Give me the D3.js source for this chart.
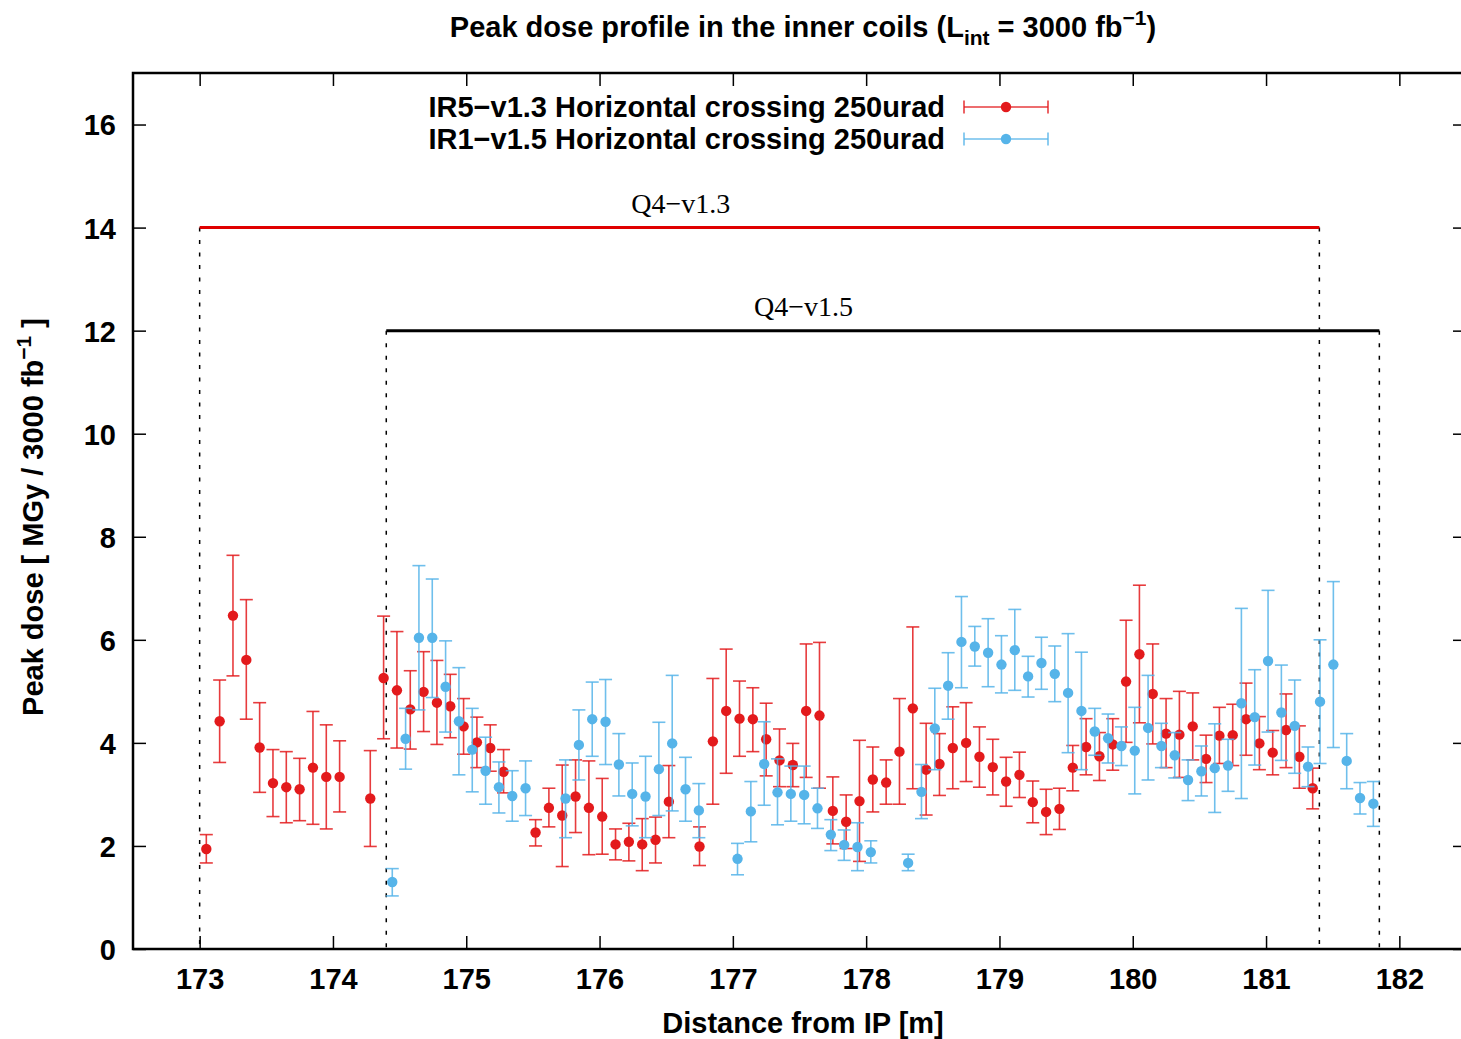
<!DOCTYPE html>
<html><head><meta charset="utf-8">
<script src="https://cdn.jsdelivr.net/npm/d3@7"></script>
<style>
body{margin:0;background:#fff;}
svg{display:block;}
.sans{font-family:"Liberation Sans Narrow","Liberation Sans",Arial,sans-serif;font-weight:bold;}
</style></head>
<body><svg id="c" width="1461" height="1039"></svg>
<script>
// Series IR5-v1.3 (red): x [m], value, lower, upper
const redX = [173.05,173.15,173.25,173.35,173.45,173.55,173.65,173.75,173.85,173.95,174.05,
174.28,174.38,174.48,174.58,174.68,174.78,174.88,174.98,175.08,175.18,175.28,
175.52,175.62,175.72,175.82,175.92,176.02,176.12,176.22,176.32,176.42,176.52,
176.75,176.85,176.95,177.05,177.15,177.25,177.35,177.45,177.55,177.65,177.75,177.85,177.95,
178.05,178.15,178.25,178.35,178.45,178.55,178.65,178.75,178.85,178.95,179.05,179.15,179.25,
179.35,179.45,179.55,179.65,179.75,179.85,179.95,180.05,180.15,180.25,180.35,180.45,180.55,
180.65,180.75,180.85,180.95,181.05,181.15,181.25,181.35];
const redY = [1.94,4.42,6.47,5.61,3.91,3.22,3.14,3.10,3.52,3.34,3.34,
2.92,5.26,5.02,4.65,4.99,4.78,4.71,4.32,4.01,3.90,3.44,
2.26,2.74,2.59,2.96,2.74,2.57,2.03,2.08,2.03,2.12,2.86,
1.99,4.03,4.62,4.47,4.46,4.07,3.66,3.57,4.62,4.53,2.68,2.47,2.87,
3.29,3.23,3.83,4.67,3.48,3.59,3.90,4.00,3.73,3.53,3.25,3.38,2.85,
2.66,2.72,3.52,3.92,3.74,3.97,5.19,5.72,4.95,4.18,4.16,4.32,3.69,
4.14,4.15,4.46,3.99,3.81,4.25,3.73,3.12];
const redLo = [1.67,3.62,5.30,4.46,3.04,2.57,2.45,2.49,2.42,2.33,2.66,
1.99,4.08,3.90,3.88,4.22,3.97,4.10,3.78,3.52,3.45,3.03,
2.00,2.37,1.60,2.26,1.83,1.84,1.73,1.71,1.52,1.67,2.16,
1.62,2.81,3.41,3.74,3.83,3.36,3.15,3.15,3.33,3.12,2.04,1.95,1.70,
2.66,2.81,2.81,3.11,2.60,2.98,3.11,3.25,3.14,2.99,2.77,2.94,2.45,
2.22,2.32,3.07,3.38,3.27,3.47,4.01,4.39,3.98,3.52,3.33,3.67,3.23,
3.60,3.56,3.76,3.48,3.38,3.52,3.12,2.72];
const redHi = [2.22,5.22,7.64,6.78,4.78,3.87,3.83,3.70,4.61,4.35,4.04,
3.85,6.46,6.16,5.40,5.77,5.60,5.33,4.86,4.50,4.35,3.87,
2.51,3.12,3.57,3.67,3.65,3.31,2.33,2.44,2.53,2.56,3.56,
2.37,5.25,5.82,5.20,5.07,4.77,4.27,3.99,5.92,5.95,3.34,2.99,4.05,
3.92,3.67,4.86,6.25,4.38,4.18,4.70,4.78,4.31,4.07,3.72,3.82,3.26,
3.10,3.12,3.95,4.47,4.20,4.47,6.38,7.06,5.92,4.86,5.00,4.97,4.15,
4.69,4.75,5.16,4.51,4.24,4.95,4.33,3.51];

// Series IR1-v1.5 (blue)
const blueX = [174.445,174.545,174.645,174.745,174.845,174.945,175.045,175.145,175.245,175.345,175.445,
175.745,175.845,175.945,176.045,176.145,176.245,176.345,176.445,176.545,176.645,176.745,
177.035,177.135,177.235,177.335,177.435,177.535,177.635,177.735,177.835,177.935,178.035,
178.315,178.415,178.515,178.615,178.715,178.815,178.915,179.015,179.115,179.215,179.315,179.415,
179.515,179.615,179.715,179.815,179.915,180.015,180.115,180.215,180.315,180.415,180.515,180.615,
180.715,180.815,180.915,181.015,181.115,181.215,181.315,181.405,181.505,181.605,181.705,181.805];
const blueY = [1.30,4.08,6.04,6.04,5.09,4.42,3.87,3.46,3.14,2.97,3.12,
2.92,3.96,4.46,4.41,3.58,3.01,2.96,3.49,3.99,3.10,2.69,
1.75,2.67,3.59,3.04,3.01,2.99,2.73,2.22,2.02,1.98,1.88,
1.67,3.05,4.28,5.11,5.96,5.87,5.75,5.52,5.80,5.29,5.55,5.34,
4.97,4.62,4.22,4.09,3.94,3.85,4.29,3.94,3.76,3.28,3.45,3.51,
3.56,4.77,4.50,5.59,4.59,4.33,3.54,4.80,5.52,3.65,2.93,2.82];
const blueLo = [1.03,3.49,4.64,4.88,4.21,3.38,3.05,2.81,2.64,2.48,2.59,
2.16,3.28,3.74,3.58,2.97,2.39,2.16,2.59,2.68,2.48,2.16,
1.44,2.08,2.79,2.41,2.48,2.43,2.34,1.91,1.72,1.52,1.67,
1.52,2.53,3.48,4.46,5.07,5.49,5.09,4.97,5.02,4.89,5.04,4.80,
3.81,3.48,3.76,3.61,3.56,3.01,3.28,3.52,3.32,2.88,2.97,2.65,
3.06,2.92,3.57,4.21,3.66,3.41,3.15,3.60,3.91,3.11,2.62,2.38];
const blueHi = [1.56,4.67,7.44,7.18,5.98,5.46,4.67,4.11,3.63,3.46,3.65,
3.67,4.64,5.18,5.23,4.18,3.61,3.74,4.40,5.31,3.72,3.21,
2.05,3.25,4.41,3.69,3.55,3.55,3.12,2.51,2.31,2.45,2.10,
1.84,3.58,5.06,5.75,6.84,6.26,6.41,6.08,6.59,5.68,6.05,5.88,
6.12,5.76,4.67,4.56,4.31,4.69,5.31,4.38,4.20,3.67,3.94,4.37,
4.07,6.61,5.42,6.96,5.51,5.22,3.92,6.00,7.13,4.18,3.23,3.25];

// Magnet extents
const magnets = [
  {name:"Q4\u2212v1.3", x0:173.0, x1:181.4, level:14, color:"#e00000", labelX:176.61},
  {name:"Q4\u2212v1.5", x0:174.4, x1:181.85, level:12, color:"#000000", labelX:177.53}
];
const xTicks = [173,174,175,176,177,178,179,180,181,182];
const yTicks = [0,2,4,6,8,10,12,14,16];
const legendLabels = ["IR5\u2212v1.3 Horizontal crossing 250urad","IR1\u2212v1.5 Horizontal crossing 250urad"];
const colors = ["#e31a1c","#56b4e9"];

const svg = d3.select("#c");
const L=133, R=1466, T=73, B=949;
const x = d3.scaleLinear().domain([172.5,182.5]).range([L,R]);
const y = d3.scaleLinear().domain([0,17]).range([B,T]);

// dashed verticals and magnet lines
const g = svg.append("g");
magnets.forEach(m=>{
  [m.x0,m.x1].forEach(xv=>{
    g.append("line").attr("x1",x(xv)).attr("x2",x(xv)).attr("y1",y(m.level)).attr("y2",y(0))
     .attr("stroke","#000").attr("stroke-width",1.5).attr("stroke-dasharray","4,8.5");
  });
});
magnets.forEach(m=>{
  g.append("line").attr("x1",x(m.x0)).attr("x2",x(m.x1)).attr("y1",y(m.level)).attr("y2",y(m.level))
   .attr("stroke",m.color).attr("stroke-width",3);
  g.append("text").attr("x",x(m.labelX)).attr("y",y(m.level)-15).attr("text-anchor","middle")
   .attr("font-family","'Liberation Serif','DejaVu Serif',serif").attr("font-size",28).text(m.name);
});

function series(X,Y,Lo,Hi,col){
  const s = svg.append("g");
  const cw=6.5;
  X.forEach((xv,i)=>{
    const px=x(xv);
    s.append("line").attr("x1",px).attr("x2",px).attr("y1",y(Lo[i])).attr("y2",y(Hi[i]))
      .attr("stroke",col).attr("stroke-width",1.6).attr("stroke-opacity",0.85);
    [Lo[i],Hi[i]].forEach(v=>{
      s.append("line").attr("x1",px-cw).attr("x2",px+cw).attr("y1",y(v)).attr("y2",y(v))
       .attr("stroke",col).attr("stroke-width",1.6).attr("stroke-opacity",0.85);
    });
  });
  s.selectAll("circle").data(X).enter().append("circle")
    .attr("cx",d=>x(d)).attr("cy",(d,i)=>y(Y[i])).attr("r",5.2).attr("fill",col);
}
series(redX,redY,redLo,redHi,colors[0]);
series(blueX,blueY,blueLo,blueHi,colors[1]);

// frame
svg.append("rect").attr("x",L).attr("y",T).attr("width",R-L).attr("height",B-T)
  .attr("fill","none").attr("stroke","#000").attr("stroke-width",2.5);

// axes with inward ticks
const tl=13;
const ax = svg.append("g").attr("transform",`translate(0,${B})`)
  .call(d3.axisBottom(x).tickValues(xTicks).tickSize(-tl).tickPadding(19).tickFormat(d3.format("d")));
const axT = svg.append("g").attr("transform",`translate(0,${T})`)
  .call(d3.axisTop(x).tickValues(xTicks).tickSize(-tl).tickFormat(""));
const ay = svg.append("g").attr("transform",`translate(${L},0)`)
  .call(d3.axisLeft(y).tickValues(yTicks).tickSize(-tl).tickPadding(17).tickFormat(d3.format("d")));
const ayR = svg.append("g").attr("transform",`translate(${R},0)`)
  .call(d3.axisRight(y).tickValues(yTicks).tickSize(-tl).tickFormat(""));
[ax,axT,ay,ayR].forEach(a=>{
  a.select(".domain").remove();
  a.selectAll(".tick line").attr("stroke","#000").attr("stroke-width",1.5);
  a.selectAll("text").attr("class","sans").attr("font-size",29).attr("fill","#000");
});
ay.selectAll(".tick text").attr("dy","0.36em");

// title
const title = svg.append("text").attr("class","sans").attr("x",803).attr("y",37)
  .attr("text-anchor","middle").attr("font-size",29);
title.append("tspan").text("Peak dose profile in the inner coils (L");
title.append("tspan").attr("font-size",21).attr("dy",8).text("int");
title.append("tspan").attr("dy",-8).text(" = 3000 fb");
title.append("tspan").attr("font-size",21).attr("dy",-12).text("\u22121");
title.append("tspan").attr("dy",12).text(")");

// axis labels
svg.append("text").attr("class","sans").attr("x",803).attr("y",1033).attr("text-anchor","middle")
  .attr("font-size",29).text("Distance from IP [m]");
const yl = svg.append("text").attr("class","sans").attr("transform","translate(43,517) rotate(-90)")
  .attr("text-anchor","middle").attr("font-size",29);
yl.append("tspan").text("Peak dose [ MGy / 3000 fb");
yl.append("tspan").attr("font-size",21).attr("dy",-12).text("\u22121");
yl.append("tspan").attr("dy",12).text(" ]");

// legend
legendLabels.forEach((lab,i)=>{
  const ly = 107 + i*32;
  svg.append("text").attr("class","sans").attr("x",945).attr("y",ly).attr("dy","0.36em")
    .attr("text-anchor","end").attr("font-size",29).text(lab);
  const lg = svg.append("g");
  lg.append("line").attr("x1",964).attr("x2",1048).attr("y1",ly).attr("y2",ly).attr("stroke",colors[i]).attr("stroke-width",1.6).attr("stroke-opacity",0.85);
  [964,1048].forEach(xx=>lg.append("line").attr("x1",xx).attr("x2",xx).attr("y1",ly-6.5).attr("y2",ly+6.5).attr("stroke",colors[i]).attr("stroke-width",1.6).attr("stroke-opacity",0.85));
  lg.append("circle").attr("cx",1006).attr("cy",ly).attr("r",5.2).attr("fill",colors[i]);
});
</script></body></html>
